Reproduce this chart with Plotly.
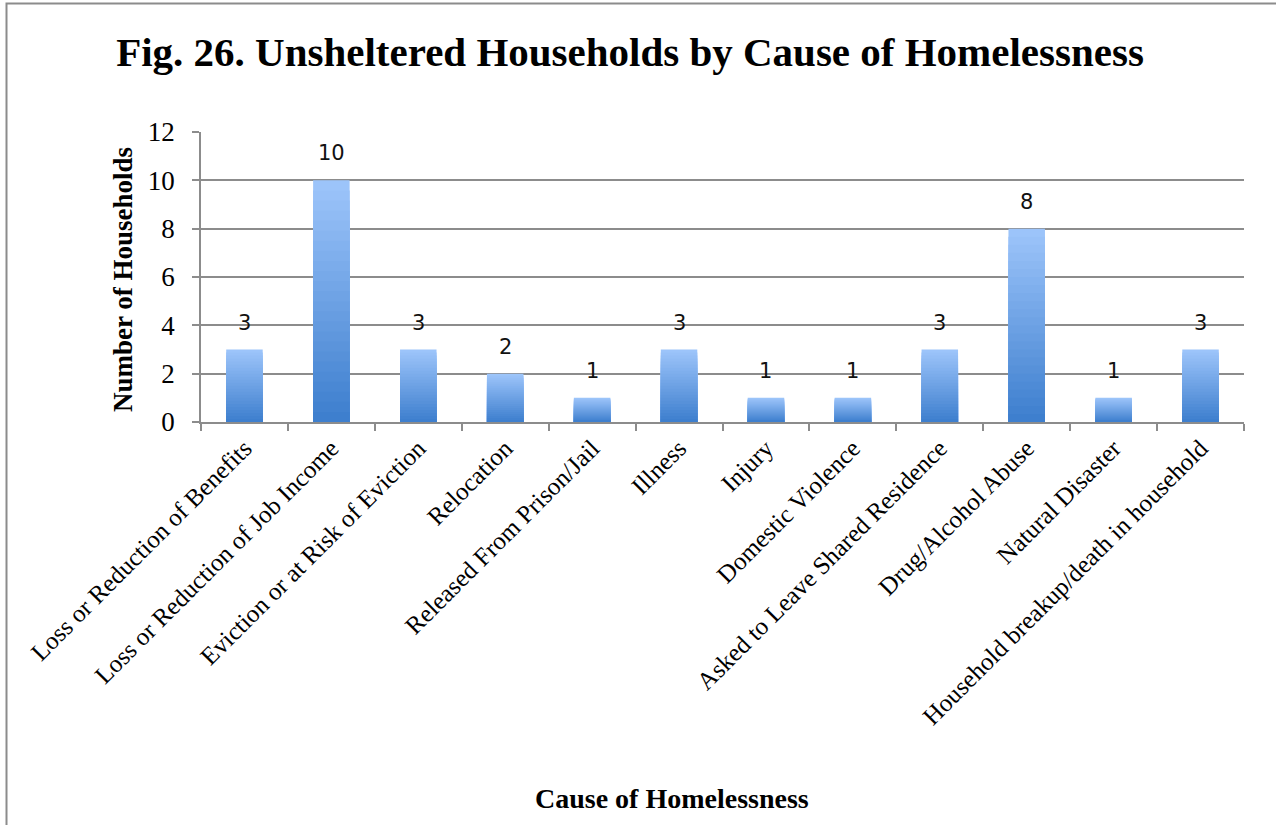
import plotly.graph_objects as go

categories = [
    "Loss or Reduction of Benefits",
    "Loss or Reduction of Job Income",
    "Eviction or at Risk of Eviction",
    "Relocation",
    "Released From Prison/Jail",
    "Illness",
    "Injury",
    "Domestic Violence",
    "Asked to Leave Shared Residence",
    "Drug/Alcohol Abuse",
    "Natural Disaster",
    "Household breakup/death in household",
]
values = [3, 10, 3, 2, 1, 3, 1, 1, 3, 8, 1, 3]
y_ticks = [0, 2, 4, 6, 8, 10, 12]

W, H = 1276, 825
L, T = 201, 132
R = W - 1244
B = H - 422
PW, PH = W - L - R, H - T - B

light = (156, 196, 250)
dark = (62, 127, 206)
N = 24

fig = go.Figure()
for k in range(N):
    f = 1 - k / N
    t = k / (N - 1)
    c = tuple(round(light[i] + (dark[i] - light[i]) * t) for i in range(3))
    fig.add_trace(go.Bar(
        x=categories,
        y=[v * f for v in values],
        marker=dict(color="rgb(%d,%d,%d)" % c, line=dict(width=0)),
        width=0.42,
        hoverinfo="skip",
        showlegend=False,
    ))

for cat, v in zip(categories, values):
    fig.add_annotation(
        x=cat, y=v, text=str(v), showarrow=False,
        xref="x", yref="y", yanchor="bottom", yshift=13,
        font=dict(family="DejaVu Sans", size=21, color="#111"),
    )


def px2x(px):
    return (px - L) / PW


def py2y(py):
    return (H - B - py) / PH


# outer chart frame (only top and left edges visible in the reference)
fig.add_shape(type="rect", xref="paper", yref="paper",
              x0=px2x(6.5), x1=px2x(1300), y0=py2y(3.5), y1=py2y(860),
              line=dict(color="#8c8c8c", width=2), fillcolor="rgba(0,0,0,0)", layer="below")

fig.add_annotation(
    text="<b>Number of Households</b>", textangle=-90, showarrow=False,
    xref="paper", yref="paper", x=px2x(123), y=py2y(280),
    xanchor="center", yanchor="middle",
    font=dict(family="Liberation Serif", size=27, color="black"),
)
fig.add_annotation(
    text="<b>Cause of Homelessness</b>", showarrow=False,
    xref="paper", yref="paper", x=px2x(672), y=py2y(798),
    xanchor="center", yanchor="middle",
    font=dict(family="Liberation Serif", size=28, color="black"),
)

fig.update_layout(
    width=W, height=H,
    margin=dict(l=L, r=R, t=T, b=B, autoexpand=False),
    barmode="overlay",
    plot_bgcolor="white",
    paper_bgcolor="white",
    title=dict(
        text="<b>Fig. 26. Unsheltered Households by Cause of Homelessness</b>",
        x=630 / W, xanchor="center", xref="container",
        y=1 - 52 / H, yanchor="middle", yref="container",
        font=dict(family="Liberation Serif", size=41, color="black"),
    ),
    xaxis=dict(
        type="category",
        tickson="boundaries",
        showgrid=False,
        showline=True, linecolor="#8c8c8c", linewidth=1.5,
        ticks="outside", ticklen=7, tickcolor="#8c8c8c", tickwidth=1.5,
        tickangle=-45,
        tickfont=dict(family="Liberation Serif", size=25, color="black"),
        automargin=False,
    ),
    yaxis=dict(
        range=[0, 12],
        tickvals=y_ticks,
        showgrid=True, gridcolor="#8c8c8c", gridwidth=1.5,
        showline=True, linecolor="#8c8c8c", linewidth=1.5,
        ticks="outside", ticklen=7, tickcolor="#8c8c8c", tickwidth=1.5,
        ticklabelstandoff=12,
        tickfont=dict(family="Liberation Serif", size=27, color="black"),
        zeroline=False,
        automargin=False,
    ),
)

fig.write_html(
    "out.html",
    config={"displayModeBar": False},
    post_script="document.body.style.margin='0';document.body.style.overflow='hidden';",
)
